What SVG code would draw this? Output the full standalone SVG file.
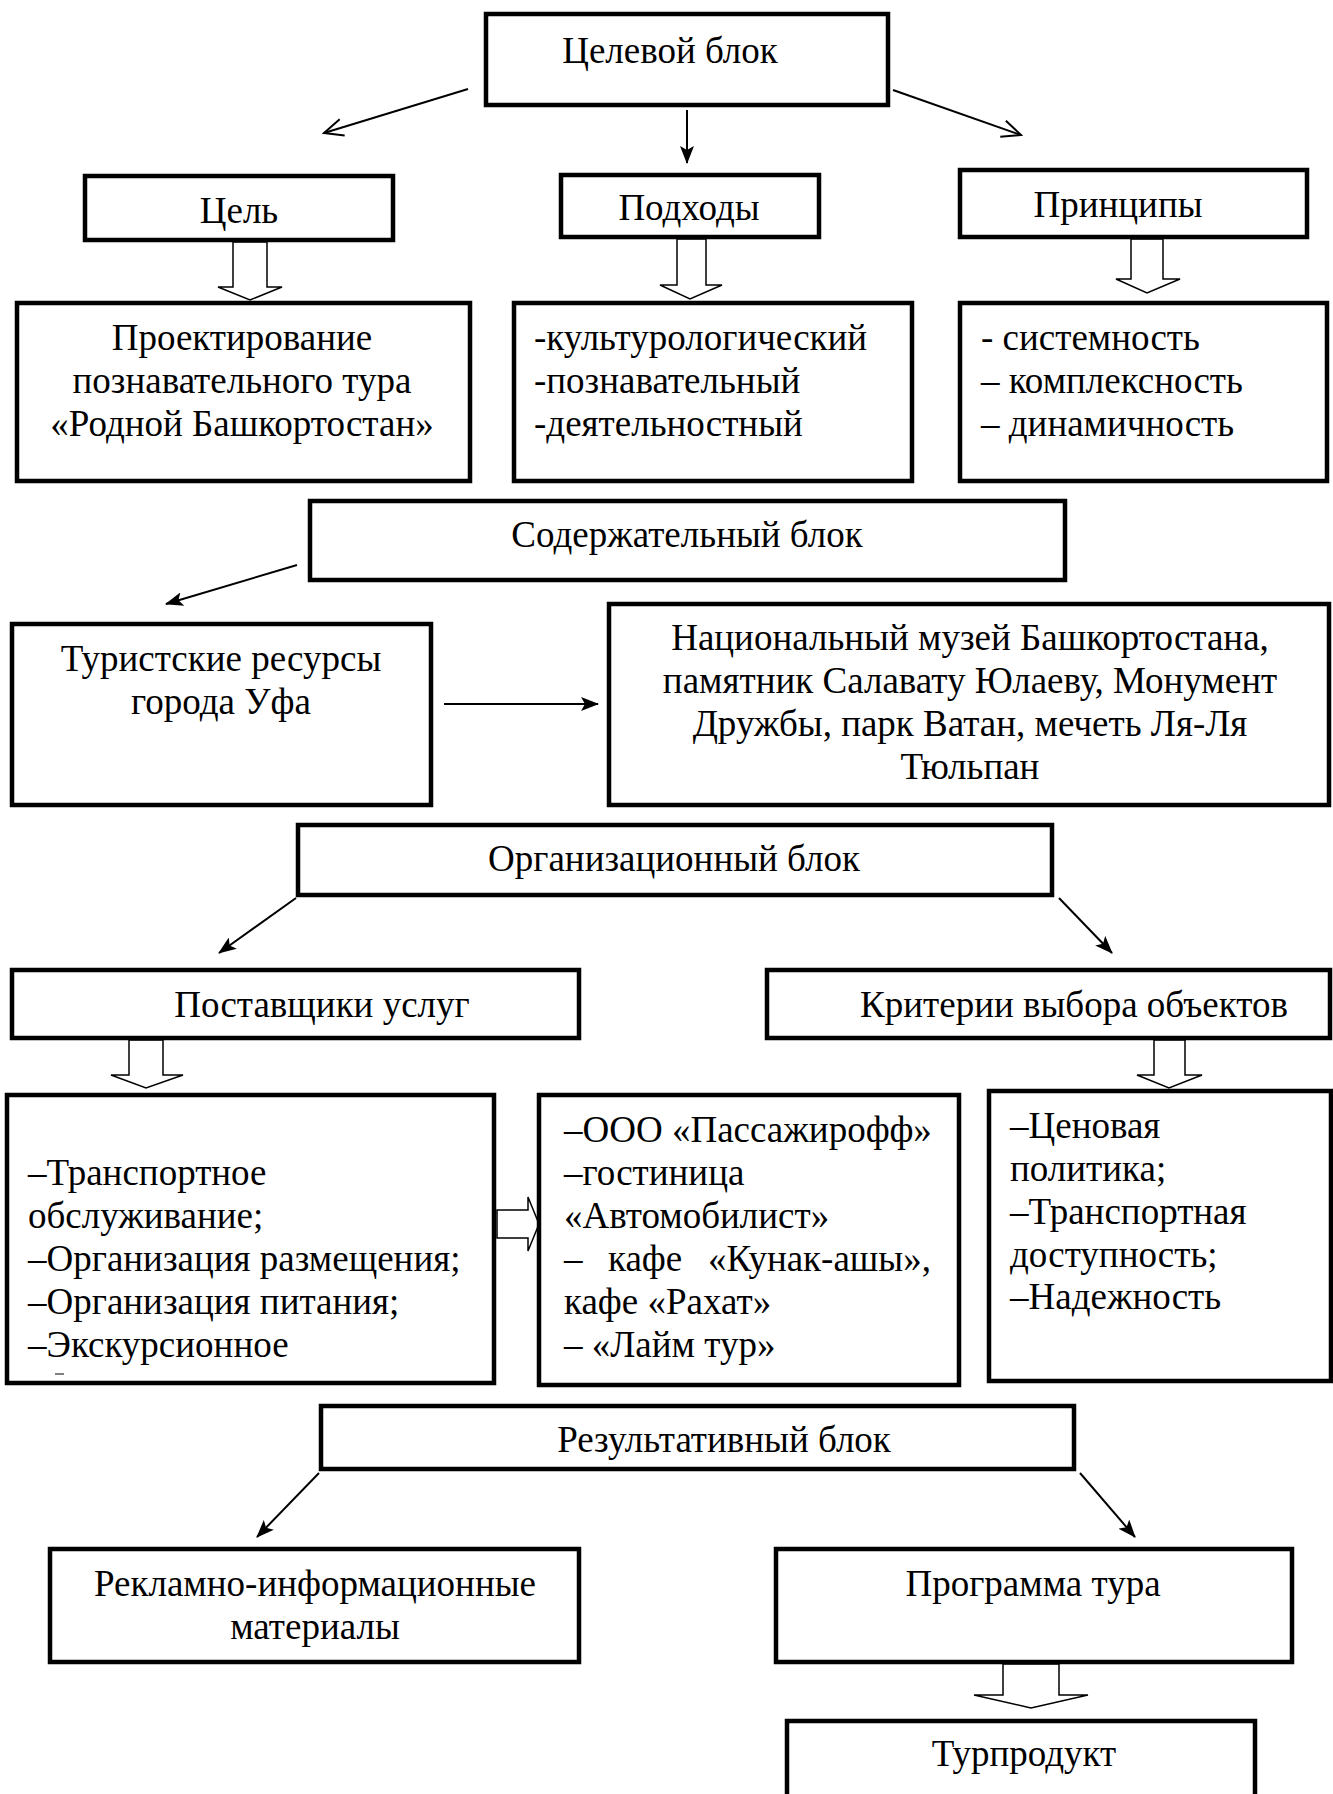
<svg xmlns="http://www.w3.org/2000/svg" width="1333" height="1794" viewBox="0 0 1333 1794">
<style>
.bg{fill:#fff}
.box{fill:#fff;stroke:#000;stroke-width:4.5}
.ba{fill:#fff;stroke:#000;stroke-width:1.5;stroke-linejoin:miter}
.ln{fill:none;stroke:#000;stroke-width:2}
.t{font-family:"Liberation Serif","Times New Roman",serif;font-size:37px;fill:#000}
.c{text-anchor:middle}
</style>
<defs>
<marker id="af" viewBox="0 0 18 14" refX="17" refY="7" markerWidth="18" markerHeight="14" markerUnits="userSpaceOnUse" orient="auto">
<path d="M0,0 L18,7 L0,14 L4,7 Z" fill="#000"/>
</marker>
<marker id="ao" viewBox="0 0 22 20" refX="20" refY="10" markerWidth="22" markerHeight="20" markerUnits="userSpaceOnUse" orient="auto">
<path d="M1,1.5 L20,10 L1,18.5" fill="none" stroke="#000" stroke-width="2"/>
</marker>
</defs>
<rect class="bg" x="0" y="0" width="1333" height="1794"/>

<g id="connectors">
<line class="ln" x1="468" y1="89" x2="324" y2="133" marker-end="url(#ao)"/>
<line class="ln" x1="687" y1="110" x2="687" y2="163" marker-end="url(#af)"/>
<line class="ln" x1="893" y1="90" x2="1021" y2="135" marker-end="url(#ao)"/>
<polygon class="ba" points="233,242 233,287 218,287 250,300 282,287 267,287 267,242"/>
<polygon class="ba" points="677,239 677,285 660,285 690,299 722,285 706,285 706,239"/>
<polygon class="ba" points="1131,239 1131,279 1116,279 1147,293 1180,279 1163,279 1163,239"/>
<line class="ln" x1="297" y1="565" x2="166" y2="604" marker-end="url(#af)"/>
<line class="ln" x1="444" y1="704" x2="598" y2="704" marker-end="url(#af)"/>
<line class="ln" x1="296" y1="898" x2="219" y2="953" marker-end="url(#af)"/>
<line class="ln" x1="1059" y1="898" x2="1112" y2="953" marker-end="url(#af)"/>
<polygon class="ba" points="129,1040 129,1075 111,1075 146,1088 183,1075 163,1075 163,1040"/>
<polygon class="ba" points="1154,1040 1154,1075 1137,1075 1169,1088 1202,1075 1185,1075 1185,1040"/>
<polygon class="ba" points="497,1210 528,1210 528,1197 539,1224 528,1251 528,1238 497,1238"/>
<line class="ln" x1="319" y1="1473" x2="257" y2="1537" marker-end="url(#af)"/>
<line class="ln" x1="1080" y1="1473" x2="1135" y2="1537" marker-end="url(#af)"/>
<polygon class="ba" points="1003,1664 1003,1695 974,1695 1031,1708 1088,1695 1059,1695 1059,1664"/>
</g>

<g id="n-celevoy">
<rect class="box" x="486" y="14" width="402" height="91"/>
<text class="t c" x="670" y="63">Целевой блок</text>
</g>
<g id="n-cel">
<rect class="box" x="85" y="176" width="308" height="64"/>
<text class="t c" x="239" y="223">Цель</text>
</g>
<g id="n-podhody">
<rect class="box" x="561" y="175" width="258" height="62"/>
<text class="t c" x="689" y="220">Подходы</text>
</g>
<g id="n-principy">
<rect class="box" x="960" y="170" width="347" height="67"/>
<text class="t c" x="1118" y="217">Принципы</text>
</g>
<g id="n-proekt">
<rect class="box" x="17" y="303" width="453" height="178"/>
<text class="t c" x="242" y="350">Проектирование</text>
<text class="t c" x="242" y="393">познавательного тура</text>
<text class="t c" x="242" y="436">«Родной Башкортостан»</text>
</g>
<g id="n-podhody-list">
<rect class="box" x="514" y="303" width="398" height="178"/>
<text class="t" x="534" y="350">-культурологический</text>
<text class="t" x="534" y="393">-познавательный</text>
<text class="t" x="534" y="436">-деятельностный</text>
</g>
<g id="n-principy-list">
<rect class="box" x="960" y="303" width="367" height="178"/>
<text class="t" x="981" y="350">- системность</text>
<text class="t" x="981" y="393">– комплексность</text>
<text class="t" x="981" y="436">– динамичность</text>
</g>
<g id="n-soderzh">
<rect class="box" x="310" y="501" width="755" height="79"/>
<text class="t c" x="687" y="547">Содержательный блок</text>
</g>
<g id="n-resursy">
<rect class="box" x="12" y="624" width="419" height="181"/>
<text class="t c" x="221" y="671">Туристские ресурсы</text>
<text class="t c" x="221" y="714">города Уфа</text>
</g>
<g id="n-obekty">
<rect class="box" x="609" y="604" width="720" height="201"/>
<text class="t c" x="970" y="650">Национальный музей Башкортостана,</text>
<text class="t c" x="970" y="693">памятник Салавату Юлаеву, Монумент</text>
<text class="t c" x="970" y="736">Дружбы, парк Ватан, мечеть Ля-Ля</text>
<text class="t c" x="970" y="779">Тюльпан</text>
</g>
<g id="n-org">
<rect class="box" x="298" y="825" width="754" height="70"/>
<text class="t c" x="674" y="871">Организационный блок</text>
</g>
<g id="n-postavshiki">
<rect class="box" x="12" y="970" width="567" height="68"/>
<text class="t c" x="322" y="1017">Поставщики услуг</text>
</g>
<g id="n-kriterii">
<rect class="box" x="767" y="970" width="563" height="68"/>
<text class="t c" x="1074" y="1017">Критерии выбора объектов</text>
</g>
<g id="n-uslugi">
<rect class="box" x="7" y="1095" width="487" height="288"/>
<text class="t" x="28" y="1185">–Транспортное</text>
<text class="t" x="28" y="1228">обслуживание;</text>
<text class="t" x="28" y="1271">–Организация размещения;</text>
<text class="t" x="28" y="1314">–Организация питания;</text>
<text class="t" x="28" y="1357">–Экскурсионное</text>
<line x1="55" y1="1374" x2="64" y2="1374" stroke="#555" stroke-width="1.5"/>
</g>
<g id="n-firmy">
<rect class="box" x="539" y="1095" width="420" height="290"/>
<text class="t" x="564" y="1142">–ООО «Пассажирофф»</text>
<text class="t" x="564" y="1185">–гостиница</text>
<text class="t" x="564" y="1228">«Автомобилист»</text>
<text class="t" y="1271"><tspan x="564">–</tspan><tspan x="608">кафе</tspan><tspan x="708">«Кунак-ашы»,</tspan></text>
<text class="t" x="564" y="1314">кафе «Рахат»</text>
<text class="t" x="564" y="1357">– «Лайм тур»</text>
</g>
<g id="n-kriterii-list">
<rect class="box" x="989" y="1091" width="342" height="290"/>
<text class="t" x="1010" y="1138">–Ценовая</text>
<text class="t" x="1010" y="1181">политика;</text>
<text class="t" x="1010" y="1224">–Транспортная</text>
<text class="t" x="1010" y="1267">доступность;</text>
<text class="t" x="1010" y="1309">–Надежность</text>
</g>
<g id="n-rezult">
<rect class="box" x="321" y="1406" width="753" height="63"/>
<text class="t c" x="724" y="1452">Результативный блок</text>
</g>
<g id="n-reklama">
<rect class="box" x="50" y="1549" width="529" height="113"/>
<text class="t c" x="315" y="1596">Рекламно-информационные</text>
<text class="t c" x="315" y="1639">материалы</text>
</g>
<g id="n-programma">
<rect class="box" x="776" y="1549" width="516" height="113"/>
<text class="t c" x="1033" y="1596">Программа тура</text>
</g>
<g id="n-turprodukt">
<rect class="box" x="787" y="1721" width="468" height="100"/>
<text class="t c" x="1024" y="1766">Турпродукт</text>
</g>
</svg>
